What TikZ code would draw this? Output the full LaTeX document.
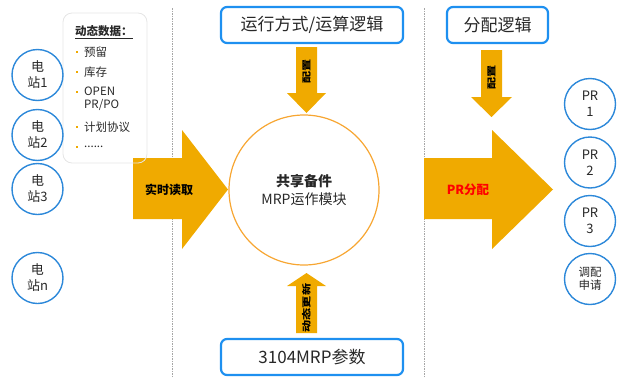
\documentclass[tikz,border=0pt]{standalone}
\usepackage{fontspec}
\setmainfont{Noto Sans CJK SC}
\definecolor{cblue}{RGB}{44,136,217}
\definecolor{bblue}{RGB}{30,144,240}
\definecolor{aorange}{RGB}{240,170,0}
\definecolor{corange}{RGB}{247,166,50}
\definecolor{txt}{RGB}{40,40,40}
\newcommand{\stretchtxt}[1]{\scalebox{1.35}[1]{#1}}
\begin{document}
\begin{tikzpicture}[x=1pt,y=-1pt,
  station/.style={circle,draw=cblue,line width=1.4pt,minimum size=51pt,inner sep=0pt,align=center,text=txt,font=\fontsize{13}{16}\selectfont},
  smallst/.style={station,font=\fontsize{11.5}{13}\selectfont},
  logicbox/.style={draw=bblue,line width=2.2pt,rounded corners=6pt,fill=white,inner sep=0pt,text=txt,font=\fontsize{17}{20}\selectfont},
  blockarrow/.style={fill=aorange,draw=none},
  arrowtext/.style={rotate=90,inner sep=0pt,text=black,font=\fontsize{9}{10}\selectfont\bfseries},
  sepline/.style={gray!70,line width=0.7pt,dash pattern=on 1.5pt off 1pt},
  bulletdot/.style={fill=aorange,minimum size=2pt,inner sep=0pt},
  item/.style={anchor=west,inner sep=0pt,align=left,text=txt,font=\fontsize{11.5}{13}\selectfont},
]
\useasboundingbox (0,0) rectangle (624,378);

% separator lines
\coordinate (s1t) at (172,8); \coordinate (s1b) at (172,378);
\coordinate (s2t) at (424,8); \coordinate (s2b) at (424,378);
\draw[sepline] (s1t) -- (s1b);
\draw[sepline] (s2t) -- (s2b);

% block arrows
\fill[blockarrow] (133,158) -- (182,158) -- (182,130) -- (228,189.5) -- (182,249) -- (182,219) -- (133,219) -- cycle;
\fill[blockarrow] (424,158) -- (492,158) -- (492,130) -- (553,189.5) -- (492,249) -- (492,219) -- (424,219) -- cycle;
\fill[blockarrow] (296,47) -- (317,47) -- (317,93) -- (326,93) -- (306.5,113) -- (287,93) -- (296,93) -- cycle;
\fill[blockarrow] (296,333) -- (317,333) -- (317,286) -- (326,286) -- (306.5,273) -- (287,286) -- (296,286) -- cycle;
\fill[blockarrow] (481,50) -- (502,50) -- (502,97) -- (512,97) -- (491.5,117) -- (471,97) -- (481,97) -- cycle;

\node[font=\fontsize{12}{14}\selectfont\bfseries,text=black] (readt) at (169,190) {实时读取};
\node[font=\fontsize{12.5}{14}\selectfont\bfseries,text=red] (prt) at (468,190) {PR分配};
\node[arrowtext] (cfg1) at (306.5,71) {\stretchtxt{配置}};
\node[arrowtext] (upd) at (306.5,308) {\stretchtxt{动态更新}};
\node[arrowtext] (cfg2) at (491.5,77) {\stretchtxt{配置}};

% center circle
\node[circle,draw=corange,line width=1.2pt,minimum size=150pt,inner sep=0pt,align=center,text=txt,font=\fontsize{14}{18}\selectfont] (core) at (304,190) {{\bfseries 共享备件}\\MRP运作模块};

% boxes
\node[logicbox,minimum width=182pt,minimum height=36pt] (run) at (312,25) {运行方式/运算逻辑};
\node[logicbox,minimum width=182pt,minimum height=36pt] (param) at (312,357) {3104MRP参数};
\node[logicbox,minimum width=101pt,minimum height=36pt] (alloc) at (497.5,25) {分配逻辑};

% dynamic data panel
\draw[gray!20,line width=0.8pt,rounded corners=9pt] (63,13) rectangle (147,163);
\node[item,font=\fontsize{11.5}{13}\selectfont\bfseries] (dyn) at (75,32) {\underline{动态数据：}};
\node[bulletdot] (b1) at (77,52) {}; \node[item] (i1) at (84,52) {预留};
\node[bulletdot] (b2) at (77,72) {}; \node[item] (i2) at (84,72) {库存};
\node[bulletdot] (b3) at (77,92) {}; \node[item] (i3) at (84,98.5) {OPEN\\PR/PO};
\node[bulletdot] (b4) at (77,127) {}; \node[item] (i4) at (84,127) {计划协议};
\node[bulletdot] (b5) at (77,147) {}; \node[item] (i5) at (84,147) {......};

% stations
\node[station] (st1) at (37.5,75) {电\\站1};
\node[station] (st2) at (37.5,135) {电\\站2};
\node[station] (st3) at (37.5,189) {电\\站3};
\node[station] (stn) at (37.5,278) {电\\站n};

% PR circles
\node[station] (pr1) at (590,104) {PR\\1};
\node[station] (pr2) at (590,162.5) {PR\\2};
\node[station] (pr3) at (590,221) {PR\\3};
\node[smallst] (req) at (590,279) {调配\\申请};
\end{tikzpicture}
\end{document}
